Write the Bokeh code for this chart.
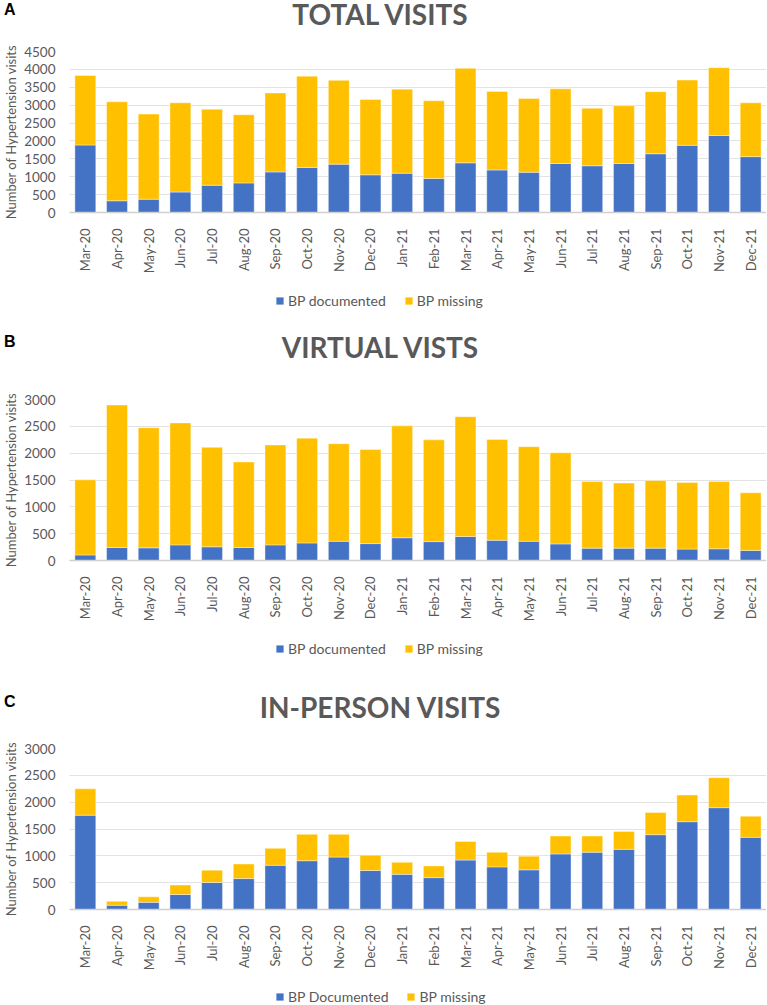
import math
from bokeh.plotting import figure
from bokeh.models import FactorRange, Range1d, FixedTicker, Legend, LegendItem, Div
from bokeh.layouts import column
from bokeh.embed import file_html
from bokeh.resources import INLINE

months = ["Mar-20", "Apr-20", "May-20", "Jun-20", "Jul-20", "Aug-20", "Sep-20",
          "Oct-20", "Nov-20", "Dec-20", "Jan-21", "Feb-21", "Mar-21", "Apr-21",
          "May-21", "Jun-21", "Jul-21", "Aug-21", "Sep-21", "Oct-21", "Nov-21", "Dec-21"]

total_documented = [1887, 327, 372, 572, 762, 826, 1134, 1261, 1352, 1053, 1098,
                    953, 1388, 1189, 1125, 1370, 1307, 1370, 1642, 1878, 2151, 1561]
total_missing = [1942, 2767, 2378, 2495, 2124, 1905, 2205, 2550, 2341, 2105, 2350,
                 2169, 2641, 2196, 2060, 2087, 1606, 1615, 1734, 1824, 1896, 1506]

virtual_documented = [103, 242, 236, 291, 255, 242, 291, 327, 358, 315, 424,
                      352, 448, 376, 358, 309, 230, 230, 230, 212, 218, 188]
virtual_missing = [1400, 2655, 2237, 2273, 1854, 1594, 1861, 1952, 1818, 1752, 2085,
                   1896, 2231, 1879, 1763, 1697, 1243, 1212, 1261, 1243, 1255, 1073]

inperson_documented = [1758, 79, 133, 279, 503, 576, 824, 909, 976, 727, 655,
                       594, 921, 794, 739, 1036, 1067, 1121, 1394, 1636, 1897, 1345]
inperson_missing = [490, 73, 103, 176, 230, 272, 315, 491, 424, 285, 224,
                    218, 346, 273, 255, 334, 303, 334, 412, 497, 558, 394]

BLUE = "#4472C4"
YELLOW = "#FFC000"
GRAY = "#595959"
FONT = "Lato"

FIG_W = 766
FRAME_H = 165
BORDER_L = 64
BORDER_B = 60


def make_header(letter, title, h, letter_top, title_top):
    html = (
        f'<div style="position:relative;width:{FIG_W}px;height:{h}px;overflow:visible;">'
        f'<span style="position:absolute;left:4px;top:{letter_top}px;'
        f'font-family:\'Liberation Sans\';font-weight:bold;font-size:16px;'
        f'line-height:16px;color:black;white-space:nowrap;">{letter}</span>'
        f'<span style="position:absolute;left:0;width:760px;top:{title_top}px;'
        f'text-align:center;font-family:{FONT};font-weight:bold;font-size:28px;'
        f'line-height:28px;color:{GRAY};white-space:nowrap;">{title}</span>'
        f'</div>'
    )
    return Div(text=html, width=FIG_W, height=h, margin=(0, 0, 0, 0))


def make_panel(documented, missing, ymax, border_top):
    fig_h = border_top + FRAME_H + BORDER_B
    p = figure(x_range=FactorRange(*months), y_range=Range1d(0, ymax),
               width=FIG_W, height=fig_h, output_backend="svg",
               toolbar_location=None, min_border_left=BORDER_L, min_border_right=0,
               min_border_top=border_top, min_border_bottom=BORDER_B)
    p.outline_line_color = None
    src = {"months": months, "doc": documented, "mis": missing}
    p.vbar_stack(["doc", "mis"], x="months", width=0.66, source=src,
                 color=[BLUE, YELLOW], line_color="white", line_alpha=0.5,
                 line_width=0.8)
    p.xgrid.grid_line_color = None
    p.ygrid.grid_line_color = "#e3e3e3"
    p.ygrid.grid_line_width = 1
    p.yaxis.ticker = FixedTicker(ticks=list(range(0, ymax + 1, 500)))
    p.yaxis.axis_line_color = None
    p.yaxis.major_tick_line_color = None
    p.yaxis.minor_tick_line_color = None
    p.yaxis.major_label_text_font = FONT
    p.yaxis.major_label_text_font_size = "13.5px"
    p.yaxis.major_label_text_color = GRAY
    p.yaxis.major_label_standoff = 8
    p.yaxis.axis_label = "Number of Hypertension visits"
    p.yaxis.axis_label_text_font = FONT
    p.yaxis.axis_label_text_font_size = "13px"
    p.yaxis.axis_label_text_font_style = "normal"
    p.yaxis.axis_label_text_color = GRAY
    p.yaxis.axis_label_standoff = 2
    p.xaxis.axis_line_color = "#d0d0d0"
    p.xaxis.axis_line_width = 1.5
    p.xaxis.major_tick_line_color = None
    p.xaxis.minor_tick_line_color = None
    p.xaxis.major_label_orientation = math.pi / 2
    p.xaxis.major_label_text_font = FONT
    p.xaxis.major_label_text_font_size = "13px"
    p.xaxis.major_label_text_color = GRAY
    p.xaxis.major_label_standoff = 10
    return p


def make_footer(documented, missing, labels, h, vy):
    # legend strip: its glyph renderers carry the panel's data, but are drawn
    # with zero width outside the visible range, so only the legend shows
    f = figure(x_range=FactorRange(*months), y_range=Range1d(-2, -1),
               width=FIG_W, height=h, output_backend="svg", toolbar_location=None,
               x_axis_type=None, y_axis_type=None, min_border=0)
    f.outline_line_color = None
    f.xgrid.grid_line_color = None
    f.ygrid.grid_line_color = None
    src = {"months": months, "doc": documented, "mis": missing}
    rs = f.vbar_stack(["doc", "mis"], x="months", width=0, source=src,
                      color=[BLUE, YELLOW], line_color=None)
    lg = Legend(items=[LegendItem(label=labels[0], renderers=[rs[0]]),
                       LegendItem(label=labels[1], renderers=[rs[1]])])
    lg.orientation = "horizontal"
    lg.location = (206, vy)
    lg.border_line_color = None
    lg.background_fill_alpha = 0
    lg.label_text_font = FONT
    lg.label_text_font_size = "14px"
    lg.label_text_color = GRAY
    lg.glyph_width = 9
    lg.glyph_height = 9
    lg.label_standoff = 4
    lg.spacing = 18
    lg.padding = 2
    lg.margin = 0
    f.add_layout(lg, "center")
    return f


ha = make_header("A", "TOTAL VISITS", 30, 2, 0)
pa = make_panel(total_documented, total_missing, 4500, 21)
fa = make_footer(total_documented, total_missing, ["BP documented", "BP missing"], 44, 11)

hb = make_header("B", "VIRTUAL VISTS", 60, 14, 13)
pb = make_panel(virtual_documented, virtual_missing, 3000, 19)
fb = make_footer(virtual_documented, virtual_missing, ["BP documented", "BP missing"], 46, 13)

hc = make_header("C", "IN-PERSON VISITS", 60, 24, 23)
pc = make_panel(inperson_documented, inperson_missing, 3000, 18)
fc = make_footer(inperson_documented, inperson_missing, ["BP Documented", "BP missing"], 32, 0)

layout = column(ha, pa, fa, hb, pb, fb, hc, pc, fc, spacing=0)
open("out.html", "w").write(file_html(layout, INLINE))
